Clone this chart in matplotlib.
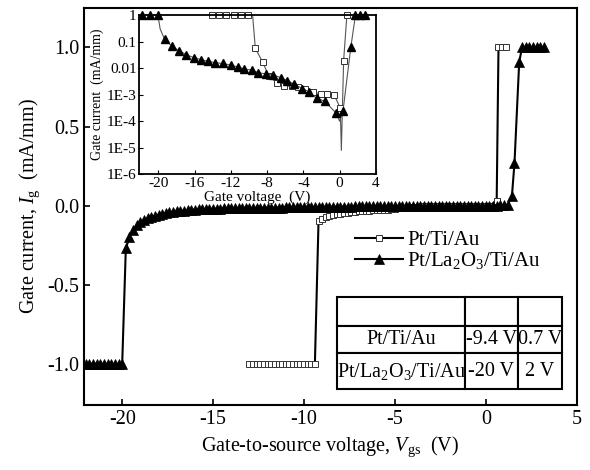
import numpy as np
import matplotlib
matplotlib.use('Agg')
import matplotlib.pyplot as plt

plt.rcParams['font.family'] = ['Liberation Serif', 'DejaVu Serif']
plt.rcParams['mathtext.fontset'] = 'custom'
plt.rcParams['mathtext.rm'] = 'Liberation Serif'
plt.rcParams['mathtext.it'] = 'Liberation Serif:italic'
plt.rcParams['axes.unicode_minus'] = False

# ------------------------------------------------------------ main plot data
# Pt/La2O3/Ti/Au (filled triangles), linear scale, mA/mm
v_la = [-22.0, -21.8, -21.6, -21.4, -21.2, -21.0, -20.8, -20.6, -20.4, -20.2,
        -20.0, -19.8, -19.6, -19.4, -19.2, -19.0, -18.8, -18.6, -18.4, -18.2,
        -18.0, -17.8, -17.6, -17.4, -17.2, -17.0, -16.8, -16.6, -16.4, -16.2,
        -16.0, -15.8, -15.6, -15.4, -15.2, -15.0, -14.8, -14.6, -14.4, -14.2,
        -14.0, -13.8, -13.6, -13.4, -13.2, -13.0, -12.8, -12.6, -12.4, -12.2,
        -12.0, -11.8, -11.6, -11.4, -11.2, -11.0, -10.8, -10.6, -10.4, -10.2,
        -10.0, -9.8, -9.6, -9.4, -9.2, -9.0, -8.8, -8.6, -8.4, -8.2,
        -8.0, -7.8, -7.6, -7.4, -7.2, -7.0, -6.8, -6.6, -6.4, -6.2,
        -6.0, -5.8, -5.6, -5.4, -5.2, -5.0, -4.8, -4.6, -4.4, -4.2,
        -4.0, -3.8, -3.6, -3.4, -3.2, -3.0, -2.8, -2.6, -2.4, -2.2,
        -2.0, -1.8, -1.6, -1.4, -1.2, -1.0, -0.8, -0.6, -0.4, -0.2,
        0.0, 0.2, 0.4, 0.6, 0.8, 1.0, 1.2, 1.44, 1.58, 1.84,
        2.0, 2.2, 2.4, 2.6, 2.8, 3.0, 3.2]
i_la = [-1.0, -1.0, -1.0, -1.0, -1.0, -1.0, -1.0, -1.0, -1.0, -1.0,
        -1.0, -0.27, -0.20, -0.155, -0.125, -0.105, -0.090, -0.080, -0.071, -0.064,
        -0.058, -0.052, -0.047, -0.043, -0.039, -0.036, -0.033, -0.031, -0.029, -0.027,
        -0.025, -0.024, -0.023, -0.022, -0.021, -0.020, -0.019, -0.019, -0.018, -0.018,
        -0.017, -0.017, -0.016, -0.016, -0.015, -0.015, -0.014, -0.014, -0.014, -0.013,
        -0.013, -0.013, -0.012, -0.012, -0.012, -0.011, -0.011, -0.011, -0.010, -0.010,
        -0.010, -0.010, -0.009, -0.009, -0.009, -0.008, -0.008, -0.008, -0.007, -0.007,
        -0.007, -0.006, -0.006, -0.006, -0.005, -0.005, -0.005, -0.005, -0.004, -0.004,
        -0.004, -0.004, -0.003, -0.003, -0.003, -0.003, -0.003, -0.003, -0.002, -0.002,
        -0.002, -0.002, -0.002, -0.002, -0.002, -0.002, -0.001, -0.001, -0.001, -0.001,
        -0.001, -0.001, -0.001, -0.001, -0.001, -0.001, 0.000, 0.000, 0.000, 0.000,
        0.000, 0.000, 0.000, 0.000, 0.001, 0.001, 0.002, 0.063, 0.27, 0.91,
        1.0, 1.0, 1.0, 1.0, 1.0, 1.0, 1.0]

# Pt/Ti/Au (open squares)
v_ti = [-13.0, -12.8, -12.6, -12.4, -12.2, -12.0, -11.8, -11.6, -11.4, -11.2,
        -11.0, -10.8, -10.6, -10.4, -10.2, -10.0, -9.8, -9.6, -9.4, -9.2,
        -9.0, -8.8, -8.6, -8.4, -8.2, -8.0, -7.8, -7.6, -7.4, -7.2,
        -7.0, -6.8, -6.6, -6.4, -6.2, -6.0, -5.8, -5.6, -5.4, -5.2,
        -5.0, -4.6, -4.2, -3.8, -3.4, -3.0, -2.6, -2.2, -1.8, -1.4,
        -1.0, -0.6, -0.2, 0.2, 0.6, 0.7, 0.9, 1.1]
i_ti = [-1.0, -1.0, -1.0, -1.0, -1.0, -1.0, -1.0, -1.0, -1.0, -1.0,
        -1.0, -1.0, -1.0, -1.0, -1.0, -1.0, -1.0, -1.0, -1.0, -0.100,
        -0.085, -0.072, -0.066, -0.060, -0.055, -0.051, -0.048, -0.045, -0.042, -0.040,
        -0.037, -0.035, -0.033, -0.031, -0.029, -0.028, -0.027, -0.026, -0.025, -0.024,
        -0.023, -0.015, -0.010, -0.006, -0.004, -0.002, 0.000, 0.000, 0.000, 0.000,
        0.000, 0.000, 0.000, 0.000, 0.030, 1.0, 1.0, 1.0]

# ------------------------------------------------------------ inset data (log |I|)
vin_la = [-21.8, -20.9, -20.05, -19.8, -19.3, -18.5, -17.7, -16.9, -16.1, -15.3,
          -14.5, -13.7, -12.9, -12.0, -11.2, -10.5, -9.7, -9.0, -8.1, -7.3,
          -6.5, -5.8, -5.0, -4.1, -3.4, -2.55, -1.65, -0.37, 0.0, 0.37,
          1.24, 1.75, 2.27, 2.82]
iin_la = [1.0, 1.0, 1.0, 0.3, 0.12, 0.068, 0.045, 0.032, 0.025, 0.021,
          0.018, 0.016, 0.015, 0.013, 0.011, 0.0092, 0.0085, 0.0068, 0.006, 0.0055,
          0.0044, 0.0034, 0.0025, 0.0017, 0.0013, 7.3e-4, 5.7e-4, 2.0e-4, 1.0e-4, 2.4e-4,
          0.064, 1.0, 1.0, 1.0]
mk_la = [0, 1, 2, 4, 5, 6, 7, 8, 9, 10, 11, 12, 13, 14, 15, 16, 17, 18, 19, 20,
         21, 22, 23, 24, 25, 26, 27, 29, 30, 31, 32, 33]

vin_ti = [-14.1, -13.3, -12.5, -11.7, -10.9, -10.1, -9.6, -9.3, -8.5, -7.8,
          -6.9, -6.1, -5.3, -4.6, -3.8, -2.95, -2.1, -1.4, -0.6, 0.07,
          0.19, 0.44, 0.8]
iin_ti = [1.0, 1.0, 1.0, 1.0, 1.0, 1.0, 1.0, 0.056, 0.017, 0.005,
          0.0027, 0.0021, 0.0022, 0.0020, 0.0017, 0.0013, 0.00105, 0.00105, 0.0010, 3.1e-4,
          8e-6, 0.019, 1.0]
mk_ti = [0, 1, 2, 3, 4, 5, 7, 8, 9, 10, 11, 12, 13, 14, 15, 16, 17, 18, 19, 21, 22]

# table
tabla = [['', '', ''],
         ['Pt/Ti/Au', '-9.4 V', '0.7 V'],
         ['Pt/La$_2$O$_3$/Ti/Au', '-20 V', '2 V']]

# ------------------------------------------------------------ figure
fig = plt.figure(figsize=(5.9, 4.7), dpi=100)
ax = fig.add_axes([0.1424, 0.1383, 0.835, 0.845])

ax.plot(v_ti, i_ti, '-', color='k', lw=1.5, marker='s', ms=4.5,
        mfc='white', mec='#333333', mew=0.7, label='Pt/Ti/Au', zorder=2)
ax.plot(v_la, i_la, '-', color='k', lw=1.5, marker='^', ms=6.5,
        mfc='k', mec='k', mew=0.5, label='Pt/La$_2$O$_3$/Ti/Au', zorder=3)

ax.set_xlim(-22.1, 5)
ax.set_ylim(-1.26, 1.25)
ax.set_xticks([-20, -15, -10, -5, 0, 5])
ax.set_yticks([-1.0, -0.5, 0.0, 0.5, 1.0])
ax.set_yticklabels(['-1.0', '-0.5', '0.0', '0.5', '1.0'])
ax.tick_params(direction='in', labelsize=14.5, length=4, width=1.2)
for s in ax.spines.values():
    s.set_linewidth(1.5)
ax.set_xlabel(r'Gate-to-source voltage, $V_{\mathrm{gs}}$  (V)', fontsize=14.5)
ax.set_ylabel(r'Gate current, $I_{\mathrm{g}}$  (mA/mm)', fontsize=14.5)

leg = ax.legend(loc='upper left', bbox_to_anchor=(0.55, 0.44), frameon=False,
                fontsize=15, handlelength=2.3, handletextpad=0.2,
                labelspacing=0.0, borderpad=0, borderaxespad=0)

tb = ax.table(cellText=tabla, cellLoc='center',
              colWidths=[0.567, 0.234, 0.198],
              bbox=[0.514, 0.040, 0.457, 0.231])
tb.auto_set_font_size(False)
tb.set_fontsize(14.5)
alturas = [0.309, 0.300, 0.391]
for (r, c), cell in tb.get_celld().items():
    cell.set_linewidth(1.5)
    cell.set_height(alturas[r])
    cell.set_facecolor('white')

# ------------------------------------------------------------ inset
axi = fig.add_axes([0.2361, 0.629, 0.401, 0.339])
axi.plot(vin_ti, iin_ti, '-', color='#555555', lw=0.8, marker='s', ms=5,
         mfc='white', mec='#333333', mew=0.7, markevery=mk_ti, clip_on=False)
axi.plot(vin_la, iin_la, '-', color='#555555', lw=0.8, marker='^', ms=6,
         mfc='k', mec='k', markevery=mk_la, clip_on=False)
axi.set_yscale('log')
axi.set_ylim(1e-6, 1)
axi.set_xlim(-22.1, 4)
axi.set_xticks([-20, -16, -12, -8, -4, 0, 4])
axi.set_yticks([1e-6, 1e-5, 1e-4, 1e-3, 0.01, 0.1, 1])
axi.set_yticklabels(['1E-6', '1E-5', '1E-4', '1E-3', '0.01', '0.1', '1'])
axi.minorticks_off()
axi.tick_params(direction='in', labelsize=11, length=3, pad=2)
for s in axi.spines.values():
    s.set_linewidth(1.3)
axi.set_xlabel('Gate voltage  (V)', fontsize=11, labelpad=0)
axi.set_ylabel('Gate current  (mA/mm)', fontsize=10, labelpad=2)

fig.savefig('out.png', dpi=100)
